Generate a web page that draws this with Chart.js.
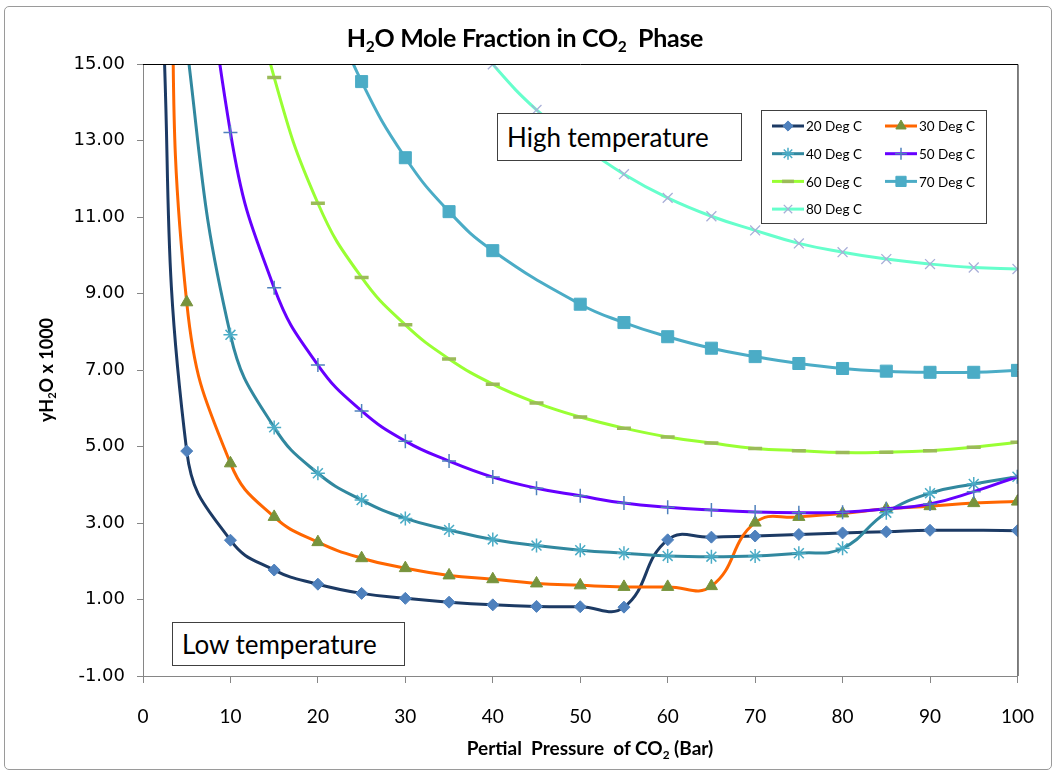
<!DOCTYPE html>
<html>
<head>
<meta charset="utf-8">
<title>H2O Mole Fraction in CO2 Phase</title>
<script src="https://cdn.jsdelivr.net/npm/chart.js@4.4.1/dist/chart.umd.min.js"></script>
<style>
  body { margin: 0; background: #fff; font-family: Lato, 'Open Sans', sans-serif; }
  #wrap { position: relative; width: 1056px; height: 774px; overflow: hidden; }
  #chart { position: absolute; left: 0; top: 0; }
  .frame { position: absolute; left: 4px; top: 6px; width: 1046px; height: 762px;
           border: 1px solid #9a9a9a; border-radius: 5px; pointer-events: none; }
  .lbl { position: absolute; font-weight: 700; color: #000; white-space: nowrap; line-height: 1; }
  .lbl sub { font-size: 0.62em; vertical-align: baseline; position: relative; top: 0.3em; }
  .title { left: 0; width: 1050px; text-align: center; top: 25px; font-size: 25px; letter-spacing: -0.3px; }
  .xtitle { left: 340px; width: 500px; text-align: center; top: 738px; font-size: 19px; }
  .ytitle { left: -54px; top: 361px; width: 200px; text-align: center; font-size: 18px; transform: rotate(-90deg); }
  .note { position: absolute; background: #fff; border: 1px solid #404040; font-size: 26px;
          color: #000; box-sizing: border-box; padding-left: 9px; line-height: 1; display: flex; align-items: center; }
</style>
</head>
<body>
<div id="wrap">
  <canvas id="chart" width="1056" height="774"></canvas>
  <div class="lbl title">H<sub>2</sub>O Mole Fraction in CO<sub>2</sub>&nbsp; Phase</div>
  <div class="lbl xtitle">Pertial&nbsp; Pressure&nbsp; of CO<sub>2</sub> (Bar)</div>
  <div class="lbl ytitle">yH<sub>2</sub>O x 1000</div>
  <div class="note" style="left:497px;top:113px;width:245px;height:48px;">High temperature</div>
  <div class="note" style="left:172px;top:622px;width:233px;height:44px;">Low temperature</div>
  <div class="frame"></div>
</div>
<script>
// Partial pressure of CO2 (bar); the first few points sit above the plotted range
const pressure = [2, 3, 5, 10, 15, 20, 25, 30, 35, 40, 45, 50, 55, 60, 65, 70, 75, 80, 85, 90, 95, 100];

// yH2O x 1000 for each temperature
const deg20 = [17.5, null, 4.88, 2.55, 1.77, 1.40, 1.16, 1.03, 0.93, 0.86, 0.82, 0.81, 0.80, 2.56, 2.63, 2.66, 2.70, 2.74, 2.77, 2.81, null, 2.80];
const deg30 = [null, 20, 8.77, 4.56, 3.16, 2.50, 2.08, 1.82, 1.63, 1.53, 1.42, 1.37, 1.33, 1.33, 1.35, 3.01, 3.16, 3.25, 3.37, 3.44, 3.52, 3.56];
const deg40 = [null, 21, 15.5, 7.92, 5.50, 4.30, 3.60, 3.12, 2.82, 2.57, 2.41, 2.29, 2.21, 2.14, 2.12, 2.14, 2.21, 2.34, 3.27, 3.78, 4.02, 4.21];
const deg50 = [null, null, 23, 13.21, 9.15, 7.13, 5.93, 5.14, 4.62, 4.20, 3.91, 3.71, 3.52, 3.41, 3.34, 3.29, 3.27, 3.28, 3.37, 3.50, 3.82, 4.21];
const deg60 = [null, null, null, 19.5, 14.65, 11.36, 9.42, 8.18, 7.29, 6.63, 6.14, 5.77, 5.48, 5.25, 5.09, 4.95, 4.89, 4.84, 4.85, 4.89, 4.98, 5.11];
const deg70 = [null, null, null, null, null, 17.2, 14.54, 12.55, 11.14, 10.12, null, 8.72, 8.24, 7.87, 7.57, 7.35, 7.17, 7.04, 6.97, 6.94, 6.94, 6.99];
const deg80 = [null, null, null, null, null, null, null, null, 16.4, 14.99, 13.80, 12.9, 12.12, 11.50, 11.02, 10.65, 10.31, 10.08, 9.90, 9.77, 9.68, 9.64];

const seriesNames = ['20 Deg C', '30 Deg C', '40 Deg C', '50 Deg C', '60 Deg C', '70 Deg C', '80 Deg C'];
const yTicks = [-1, 1, 3, 5, 7, 9, 11, 13, 15];

const styles = [
  { line: '#1c3a64', style: 'rectRot',  r: 6,   fill: '#4f81bd', stroke: '#4f81bd', bw: 1 },
  { line: '#ff6600', style: 'triangle', r: 7,   fill: '#77933c', stroke: '#77933c', bw: 1 },
  { line: '#31889f', style: 'star',     r: 7,   fill: '#4bacc6', stroke: '#4bacc6', bw: 1.5 },
  { line: '#6600ff', style: 'cross',    r: 7,   fill: '#4f81bd', stroke: '#4f81bd', bw: 1.5 },
  { line: '#99ff33', style: 'line',     r: 7,   fill: '#9bbb59', stroke: '#9bbb59', bw: 3.5 },
  { line: '#4bacc6', style: 'rect',     r: 8.5, fill: '#4bacc6', stroke: '#4bacc6', bw: 1 },
  { line: '#66ffcc', style: 'crossRot', r: 7,   fill: '#a9afd8', stroke: '#a9afd8', bw: 1.3 }
];

const values = [deg20, deg30, deg40, deg50, deg60, deg70, deg80];

const datasets = values.map((vals, i) => ({
  label: seriesNames[i],
  data: pressure.map((p, j) => ({ x: p, y: vals[j] })),
  borderColor: styles[i].line,
  borderWidth: 3,
  tension: 0.45,
  spanGaps: true,
  pointStyle: styles[i].style,
  pointRadius: styles[i].r,
  pointBackgroundColor: styles[i].fill,
  pointBorderColor: styles[i].stroke,
  pointBorderWidth: styles[i].bw,
  order: 7 - i
}));

// Plot border (top/right) and the legend box drawn on the canvas
const extras = {
  id: 'extras',
  afterDraw(chart) {
    const { ctx, chartArea: a } = chart;
    ctx.save();
    ctx.strokeStyle = '#000';
    ctx.lineWidth = 1;
    ctx.beginPath();
    ctx.moveTo(a.left, a.top + 0.5);
    ctx.lineTo(a.right + 0.5, a.top + 0.5);
    ctx.lineTo(a.right + 0.5, a.bottom);
    ctx.stroke();

    // legend
    const bx = 761, by = 110, bw = 225, bh = 113;
    ctx.fillStyle = '#fff';
    ctx.fillRect(bx, by, bw, bh);
    ctx.strokeStyle = '#404040';
    ctx.strokeRect(bx + 0.5, by + 0.5, bw, bh);
    ctx.font = '13.5px Lato, "Open Sans", sans-serif';
    ctx.textBaseline = 'middle';
    seriesNames.forEach((name, i) => {
      const s = styles[i];
      const x0 = 772 + (i % 2) * 113;
      const y = 126 + Math.floor(i / 2) * 27.7;
      ctx.strokeStyle = s.line;
      ctx.lineWidth = 3;
      ctx.beginPath();
      ctx.moveTo(x0, y);
      ctx.lineTo(x0 + 32, y);
      ctx.stroke();
      ctx.fillStyle = s.fill;
      ctx.strokeStyle = s.stroke;
      ctx.lineWidth = s.bw;
      Chart.helpers.drawPoint(ctx, { pointStyle: s.style, radius: s.r * 0.85, borderWidth: s.bw, rotation: 0 }, x0 + 16, y);
      ctx.fillStyle = '#000';
      ctx.fillText(name, x0 + 34, y + 1);
    });
    ctx.restore();
  }
};

new Chart(document.getElementById('chart'), {
  type: 'line',
  data: { datasets },
  options: {
    responsive: false,
    animation: false,
    layout: { padding: { left: 0, top: 64, right: 38, bottom: 0 } },
    plugins: { legend: { display: false }, title: { display: false }, tooltip: { enabled: false } },
    scales: {
      x: {
        type: 'linear',
        min: 0,
        max: 100,
        afterFit: s => { s.height = 98; },
        ticks: {
          stepSize: 10,
          color: '#000',
          padding: 22,
          maxRotation: 0,
          font: { family: '"Liberation Sans Narrow", Lato, sans-serif', size: 19 }
        },
        grid: { drawOnChartArea: false, drawTicks: true, tickLength: 7, color: '#868686' },
        border: { color: '#868686', width: 1 }
      },
      y: {
        type: 'linear',
        min: -1,
        max: 15,
        afterFit: s => { s.width = 143; },
        afterBuildTicks: s => { s.ticks = yTicks.map(v => ({ value: v })); },
        ticks: {
          color: '#000',
          padding: 12,
          callback: v => v.toFixed(2),
          font: { family: '"DejaVu Sans", sans-serif', size: 18 }
        },
        grid: { drawOnChartArea: false, drawTicks: true, tickLength: 6, color: '#868686' },
        border: { color: '#868686', width: 1 }
      }
    }
  },
  plugins: [extras]
});
</script>
</body>
</html>
